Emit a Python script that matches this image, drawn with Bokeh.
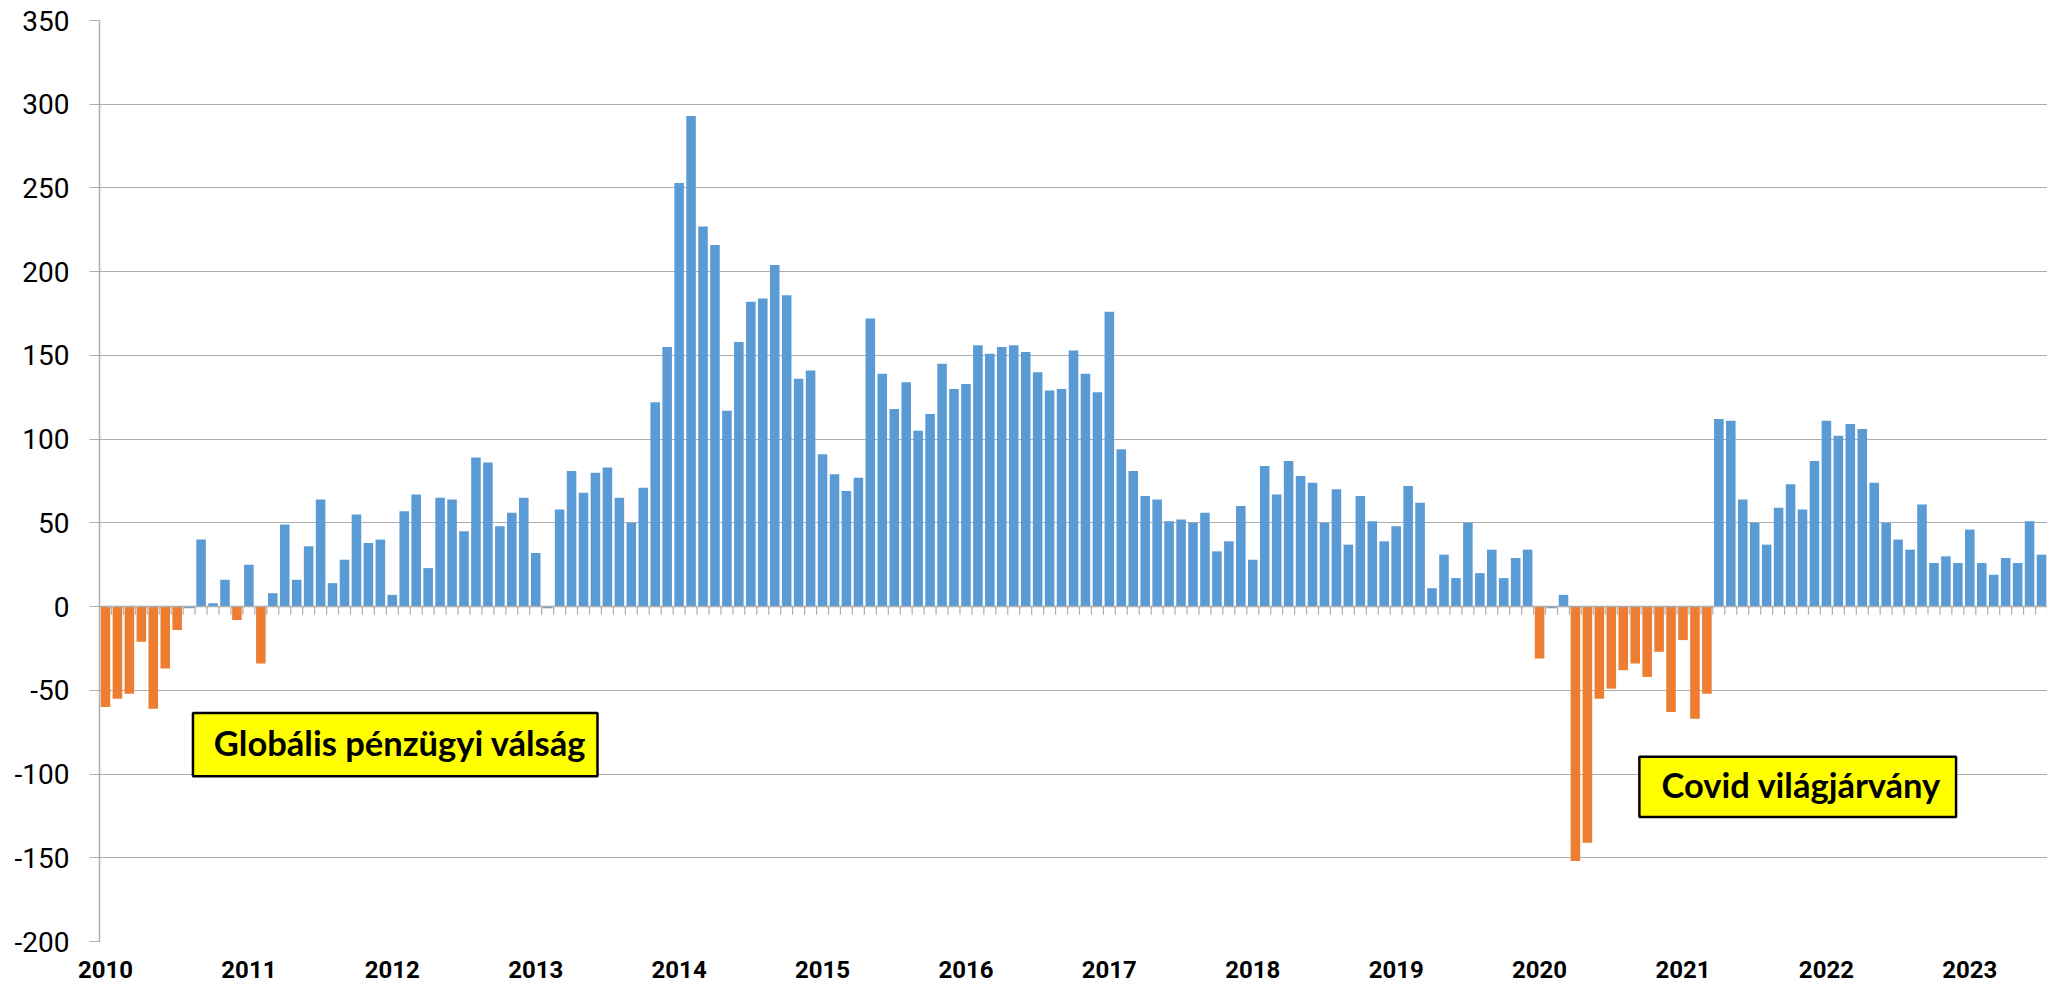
from bokeh.plotting import figure
from bokeh.models import (ColumnDataSource, Range1d, FixedTicker, Span,
                          BoxAnnotation, Label)
from bokeh.embed import file_html
from bokeh.resources import INLINE

# ---- data -------------------------------------------------------------
years = [2010, 2011, 2012, 2013, 2014, 2015, 2016, 2017, 2018, 2019,
         2020, 2021, 2022, 2023]

values = [
    # 2010
    -60, -55, -52, -21, -61, -37, -14, -1, 40, 2, 16, -8,
    # 2011
    25, -34, 8, 49, 16, 36, 64, 14, 28, 55, 38, 40,
    # 2012
    7, 57, 67, 23, 65, 64, 45, 89, 86, 48, 56, 65,
    # 2013
    32, -1, 58, 81, 68, 80, 83, 65, 50, 71, 122, 155,
    # 2014
    253, 293, 227, 216, 117, 158, 182, 184, 204, 186, 136, 141,
    # 2015
    91, 79, 69, 77, 172, 139, 118, 134, 105, 115, 145, 130,
    # 2016
    133, 156, 151, 155, 156, 152, 140, 129, 130, 153, 139, 128,
    # 2017
    176, 94, 81, 66, 64, 51, 52, 50, 56, 33, 39, 60,
    # 2018
    28, 84, 67, 87, 78, 74, 50, 70, 37, 66, 51, 39,
    # 2019
    48, 72, 62, 11, 31, 17, 50, 20, 34, 17, 29, 34,
    # 2020
    -31, -1, 7, -152, -141, -55, -49, -38, -34, -42, -27, -63,
    # 2021
    -20, -67, -52, 112, 111, 64, 50, 37, 59, 73, 58, 87,
    # 2022
    111, 102, 109, 106, 74, 50, 40, 34, 61, 26, 30, 26,
    # 2023
    46, 26, 19, 29, 26, 51, 31,
]

y_ticks = [-200, -150, -100, -50, 0, 50, 100, 150, 200, 250, 300, 350]
y_tick_labels = ["-200", "-150", "-100", "-50", "0", "50", "100", "150",
                 "200", "250", "300", "350"]

annot_1 = "Globális pénzügyi válság"
annot_2 = "Covid világjárvány"

BLUE = "#5B9BD5"
ORANGE = "#ED7D31"
GRID = "#ADADAD"

# ---- build ------------------------------------------------------------
n = len(values)
xs = list(range(n))
colors = [ORANGE if v < -2 else BLUE for v in values]
source = ColumnDataSource(dict(x=xs, v=values, c=colors))

p = figure(width=2047, height=991, output_backend="svg",
           toolbar_location=None,
           x_range=Range1d(-0.5, n - 0.5), y_range=Range1d(-200, 350),
           min_border_left=99, min_border_right=0, min_border_top=20,
           min_border_bottom=50)
p.outline_line_color = None
p.background_fill_color = "white"
p.border_fill_color = "white"

# grid
p.xgrid.visible = False
p.ygrid.ticker = FixedTicker(ticks=y_ticks)
p.ygrid.grid_line_color = GRID
p.ygrid.grid_line_width = 1.2

# y axis
p.yaxis.ticker = FixedTicker(ticks=y_ticks)
p.yaxis.major_label_overrides = {t: s for t, s in zip(y_ticks, y_tick_labels)}
p.yaxis.axis_line_color = GRID
p.yaxis.axis_line_width = 1.5
p.yaxis.major_tick_line_color = GRID
p.yaxis.major_tick_line_width = 1.2
p.yaxis.major_tick_out = 10
p.yaxis.major_tick_in = 0
p.yaxis.minor_tick_line_color = None
p.yaxis.major_label_standoff = 20
p.yaxis.major_label_text_font = "Roboto"
p.yaxis.major_label_text_font_size = "28px"
p.yaxis.major_label_text_color = "black"

# x axis (year labels under January)
year_ticks = [i * 12 for i in range(len(years))]
p.xaxis.ticker = FixedTicker(ticks=year_ticks)
p.xaxis.major_label_overrides = {t: str(y) for t, y in zip(year_ticks, years)}
p.xaxis.axis_line_color = None
p.xaxis.major_tick_line_color = None
p.xaxis.minor_tick_line_color = None
p.xaxis.major_tick_out = 0
p.xaxis.major_tick_in = 0
p.xaxis.major_label_standoff = 19
p.xaxis.major_label_text_font = "Roboto"
p.xaxis.major_label_text_font_style = "bold"
p.xaxis.major_label_text_font_size = "24px"
p.xaxis.major_label_text_color = "black"

# category tick marks along zero line
bounds = [i + 0.5 for i in range(n)]
p.segment(x0=bounds, y0=[0] * n, x1=bounds, y1=[-4.8] * n,
          line_color=GRID, line_width=1.2)

# bars
p.vbar(x="x", top="v", bottom=0, width=0.8, fill_color="c",
       line_color=None, source=source)

# zero (category) axis line
p.add_layout(Span(location=0, dimension="width", line_color=GRID,
                  line_width=1.5, level="overlay"))

# annotations
for (l, r, b, t, tx, ty, txt) in [
        (7.32, 41.17, -101.3, -63.5, 24.65, -81.0, annot_1),
        (128.35, 154.85, -125.6, -89.6, 141.9, -106.0, annot_2)]:
    p.add_layout(BoxAnnotation(left=l, right=r, bottom=b, top=t,
                               fill_color="#FFFF00", fill_alpha=1.0,
                               line_color="black", line_alpha=1.0,
                               line_width=2.5, level="overlay"))
    p.add_layout(Label(x=tx, y=ty, text=txt, text_font="Lato",
                       text_font_style="bold", text_font_size="34.5px",
                       text_color="black", text_align="center",
                       text_baseline="middle", level="overlay"))

open("out.html", "w").write(file_html(p, INLINE))
